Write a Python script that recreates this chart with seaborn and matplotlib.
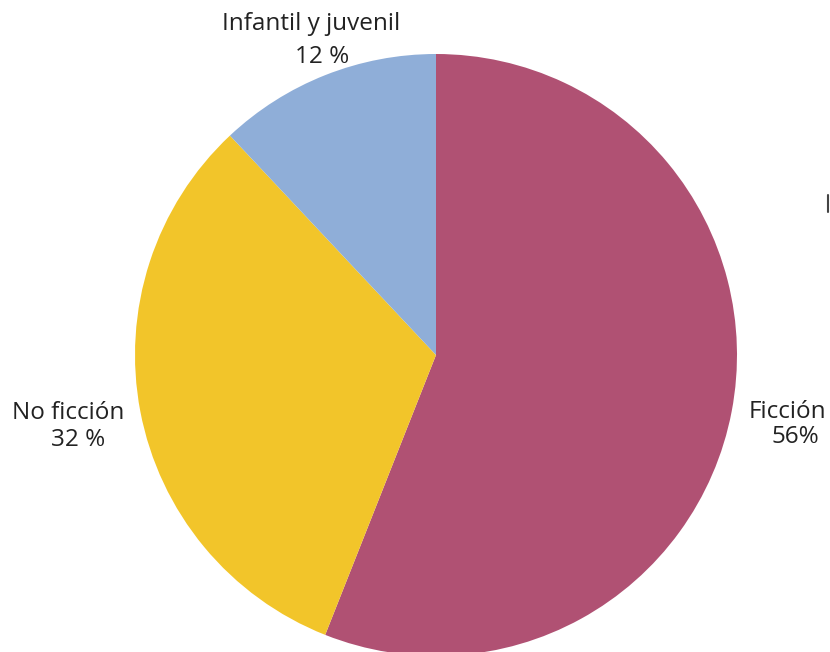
import matplotlib
matplotlib.use("Agg")
import matplotlib.pyplot as plt
import seaborn as sns
from matplotlib.lines import Line2D

sns.set_theme(style="white")
plt.rcParams['font.family'] = ['Open Sans', 'DejaVu Sans']

categories = ["Ficción", "No ficción", "Infantil y juvenil"]
values = [56, 32, 12]
pct_labels = ["56%", "32 %", "12 %"]
colors = ["#B05173", "#F2C52A", "#8FAED8"]

fig = plt.figure(figsize=(8.30, 6.52), dpi=100)
ax = fig.add_axes([0, 0, 1, 1])
ax.pie(values, colors=colors, startangle=90, counterclock=False,
       center=(436, -355), radius=301, frame=True,
       wedgeprops=dict(linewidth=0))
ax.set_xlim(0, 830)
ax.set_ylim(-652, 0)
ax.set_aspect('equal')
ax.axis('off')

label_pos = {
    "Ficción": ((787, -412), (795, -437)),
    "No ficción": ((68, -413), (78, -440)),
    "Infantil y juvenil": ((311, -24), (322, -57)),
}
for cat, pl in zip(categories, pct_labels):
    (x1, y1), (x2, y2) = label_pos[cat]
    ax.text(x1, y1, cat, ha='center', va='center', fontsize=17.5, color='#222222')
    ax.text(x2, y2, pl, ha='center', va='center', fontsize=17.5, color='#222222')

fig.add_artist(Line2D([828/830, 828/830], [1 - 195/652, 1 - 212/652],
                      transform=fig.transFigure, color='#444444', linewidth=1.5))

fig.savefig("out.png", dpi=100)
